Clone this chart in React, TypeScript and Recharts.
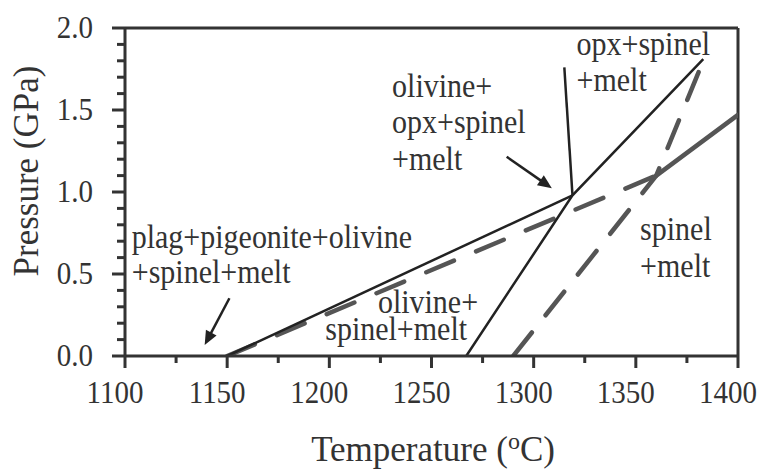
import React from 'react';
import { LineChart, Line, XAxis, YAxis, ReferenceLine, ReferenceDot } from 'recharts';

// ---- tick values ----
const xTicks = [1100, 1125, 1150, 1175, 1200, 1225, 1250, 1275, 1300, 1325, 1350, 1375, 1400];
const xMajorTicks = [1100, 1150, 1200, 1250, 1300, 1350, 1400];
const yTicks = [0, 0.1, 0.2, 0.3, 0.4, 0.5, 0.6, 0.7, 0.8, 0.9, 1.0, 1.1, 1.2, 1.3, 1.4, 1.5, 1.6, 1.7, 1.8, 1.9, 2.0];
const yMajorTicks = [0, 0.5, 1.0, 1.5, 2.0];

// ---- phase boundaries (T in °C, P in GPa) ----
const plagOut = [
  { t: 1150, p: 0 },
  { t: 1319, p: 0.98 },
];
const olivineOpx = [
  { t: 1267, p: 0 },
  { t: 1319, p: 0.98 },
  { t: 1383, p: 1.81 },
];
const upperBoundary = [
  { t: 1319, p: 0.98 },
  { t: 1315, p: 1.76 },
];
const dashedLow = [
  { t: 1150, p: 0 },
  { t: 1360, p: 1.1 },
];
const grayHigh = [
  { t: 1360, p: 1.1 },
  { t: 1400, p: 1.47 },
];
const dashedSteep = [
  { t: 1290, p: 0 },
  { t: 1360, p: 1.1 },
  { t: 1383, p: 1.8 },
];

// ---- annotations ----
const labels = [
  { t: 1321, p: 1.835, lines: ['opx+spinel', '+melt'], anchor: 'start', gap: 36 },
  { t: 1230.7, p: 1.581, lines: ['olivine+', 'opx+spinel', '+melt'], anchor: 'start', gap: 36.7 },
  { t: 1103.3, p: 0.657, lines: ['plag+pigeonite+olivine', '+spinel+melt'], anchor: 'start', gap: 35 },
  { t: 1272.8, p: 0.26, lines: ['olivine+'], anchor: 'end', gap: 0 },
  { t: 1267.4, p: 0.098, lines: ['spinel+melt'], anchor: 'end', gap: 0 },
  { t: 1352.1, p: 0.707, lines: ['spinel', '+melt'], anchor: 'start', gap: 36.7 },
];
const arrows = [
  { from: { t: 1151.1, p: 0.352 }, to: { t: 1139, p: 0.067 } },
  { from: { t: 1286.8, p: 1.215 }, to: { t: 1308.9, p: 1.023 } },
];

const FONT = '"Liberation Serif", "Times New Roman", serif';
const INK = '#333';
const LINE = '#222';
const GRAY = '#555';
const STRETCH = 1.1;

const isMajor = (v: number, list: number[]) => list.some((m) => Math.abs(m - v) < 1e-6);

const stretchAt = (x: number, y: number) => `translate(${x} ${y}) scale(1 ${STRETCH}) translate(${-x} ${-y})`;

const YTick = (props: any) => {
  const { x, y, payload } = props;
  const v = payload.value as number;
  const major = isMajor(v, yMajorTicks);
  const ty = y + 10;
  return (
    <g>
      <line x1={x - (major ? 13 : 8)} x2={x} y1={y} y2={y} stroke={INK} strokeWidth={3} />
      {major && (
        <text x={x - 32} y={ty} transform={stretchAt(x - 32, ty)} textAnchor="end" fontSize={29} fontFamily={FONT} fill={INK}>
          {v.toFixed(1)}
        </text>
      )}
    </g>
  );
};

const XTick = (props: any) => {
  const { x, y, payload } = props;
  const v = payload.value as number;
  const major = isMajor(v, xMajorTicks);
  const ty = y + 47;
  return (
    <g>
      <line x1={x} x2={x} y1={y} y2={y + (major ? 12 : 7)} stroke={INK} strokeWidth={3} />
      {major && (
        <text x={x - 10} y={ty} transform={stretchAt(x - 10, ty)} textAnchor="middle" fontSize={29} fontFamily={FONT} fill={INK}>
          {String(v)}
        </text>
      )}
    </g>
  );
};

const makeLabel = (lines: string[], anchor: string, gap: number) => (p: any) => (
  <text
    x={p.cx}
    y={p.cy}
    transform={stretchAt(p.cx, p.cy)}
    textAnchor={anchor as any}
    fontSize={30}
    fontFamily={FONT}
    fill={INK}
  >
    {lines.map((l, i) => (
      <tspan key={i} x={p.cx} dy={i === 0 ? 0 : gap / STRETCH}>
        {l}
      </tspan>
    ))}
  </text>
);

const arrowShape = (p: any) => {
  const { x1, y1, x2, y2 } = p;
  const dx = x2 - x1;
  const dy = y2 - y1;
  const len = Math.sqrt(dx * dx + dy * dy) || 1;
  const ux = dx / len;
  const uy = dy / len;
  const hl = 14;
  const hw = 6;
  const bx = x2 - ux * hl;
  const by = y2 - uy * hl;
  const pts = `${x2},${y2} ${bx - uy * hw},${by + ux * hw} ${bx + uy * hw},${by - ux * hw}`;
  return (
    <g>
      <line x1={x1} y1={y1} x2={bx + ux * 2} y2={by + uy * 2} stroke={LINE} strokeWidth={2.5} />
      <polygon points={pts} fill={LINE} />
    </g>
  );
};

export default function App() {
  return (
    <div style={{ position: 'absolute', left: 0, top: 0, width: 759, height: 470, background: '#fff' }}>
      <LineChart width={759} height={470} margin={{ top: 28, right: 21, bottom: 0, left: 0 }}>
        <XAxis
          type="number"
          dataKey="t"
          domain={[1100, 1400]}
          ticks={xTicks}
          interval={0}
          tickSize={0}
          tickMargin={0}
          tickLine={false}
          tick={<XTick />}
          height={114}
          axisLine={{ stroke: INK, strokeWidth: 3 }}
          allowDataOverflow
        />
        <YAxis
          type="number"
          dataKey="p"
          domain={[0, 2]}
          ticks={yTicks}
          interval={0}
          tickSize={0}
          tickMargin={0}
          tickLine={false}
          tick={<YTick />}
          width={125}
          axisLine={{ stroke: INK, strokeWidth: 3 }}
          allowDataOverflow
        />
        <ReferenceLine y={2} stroke={INK} strokeWidth={3} />
        <ReferenceLine x={1400} stroke={INK} strokeWidth={3} />

        <Line data={dashedLow} dataKey="p" stroke={GRAY} strokeWidth={4.5} strokeDasharray="30 24" strokeLinecap="round" dot={false} activeDot={false} isAnimationActive={false} />
        <Line data={grayHigh} dataKey="p" stroke={GRAY} strokeWidth={4.5} strokeLinecap="round" dot={false} activeDot={false} isAnimationActive={false} />
        <Line data={dashedSteep} dataKey="p" stroke={GRAY} strokeWidth={4.5} strokeDasharray="30 22" strokeLinecap="round" dot={false} activeDot={false} isAnimationActive={false} />
        <Line data={plagOut} dataKey="p" stroke={LINE} strokeWidth={2.5} dot={false} activeDot={false} isAnimationActive={false} />
        <Line data={olivineOpx} dataKey="p" stroke={LINE} strokeWidth={2.5} dot={false} activeDot={false} isAnimationActive={false} />
        <Line data={upperBoundary} dataKey="p" stroke={LINE} strokeWidth={2.5} dot={false} activeDot={false} isAnimationActive={false} />

        {arrows.map((a, i) => (
          <ReferenceLine
            key={`a${i}`}
            segment={[
              { x: a.from.t, y: a.from.p },
              { x: a.to.t, y: a.to.p },
            ]}
            shape={arrowShape}
            ifOverflow="visible"
          />
        ))}
        {labels.map((l, i) => (
          <ReferenceDot
            key={`l${i}`}
            x={l.t}
            y={l.p}
            r={0}
            ifOverflow="visible"
            shape={makeLabel(l.lines, l.anchor, l.gap)}
          />
        ))}

        <text x={433} y={461} textAnchor="middle" fontSize={35} fontFamily={FONT} fill={INK}>
          Temperature (
          <tspan fontSize={24} dy={-12}>o</tspan>
          <tspan dy={12}>C)</tspan>
        </text>
        <text
          x={38}
          y={171}
          transform="rotate(-90 38 171)"
          textAnchor="middle"
          fontSize={35}
          fontFamily={FONT}
          fill={INK}
        >
          Pressure (GPa)
        </text>
      </LineChart>
    </div>
  );
}
